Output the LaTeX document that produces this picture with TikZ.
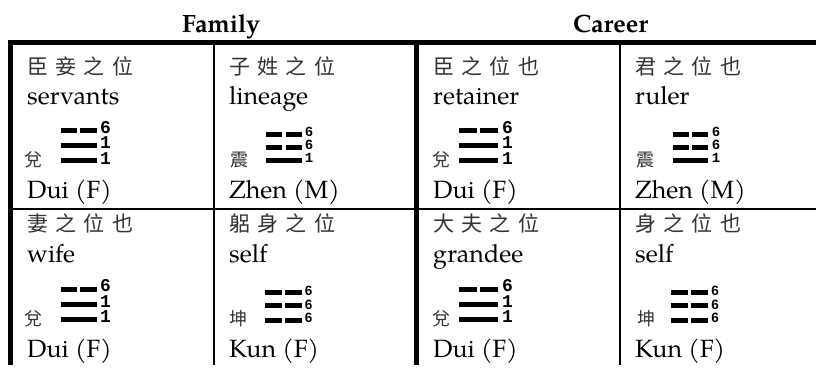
\documentclass[tikz,border=0pt]{standalone}
\usepackage{fontspec}
\newfontfamily\palf{TeX Gyre Pagella}
\newfontfamily\cjk{Noto Sans CJK TC}
\newfontfamily\cjkls[LetterSpace=35]{Noto Sans CJK TC}
\newfontfamily\monof{Liberation Mono}
\newfontfamily\sansf{Liberation Sans}
\newcommand\yang[3]{\fill (#1,#3-2.5) rectangle (#2,#3+2.5);}
\newcommand\yin[3]{\fill (#1,#3-2.5) rectangle ({(#1+#2)/2-1.7},#3+2.5);
  \fill ({(#1+#2)/2+1.7},#3-2.5) rectangle (#2,#3+2.5);}
\tikzset{
  en/.style={anchor=base west, inner sep=0pt, font=\palf\fontsize{25}{30}\selectfont},
  hd/.style={anchor=base, inner sep=0pt, font=\palf\bfseries\fontsize{25}{30}\selectfont},
  zh/.style={anchor=west, inner sep=0pt, text=black!80, font=\cjkls\fontsize{21}{25}\selectfont},
  zs/.style={anchor=base west, inner sep=0pt, text=black!80, font=\cjk\fontsize{18}{22}\selectfont},
  dg/.style={inner sep=0pt, align=center, font=\monof\bfseries\fontsize{18}{15.5}\selectfont},
  dgs/.style={inner sep=0pt, align=center, font=\monof\bfseries\fontsize{14}{13}\selectfont},
  dgk/.style={inner sep=0pt, align=center, font=\sansf\bfseries\fontsize{13.5}{13.75}\selectfont},
}
\begin{document}
\begin{tikzpicture}[x=1pt,y=-1pt]
\useasboundingbox (0,0) rectangle (816,367);
% rules
\fill (8,40) rectangle (816,45);
\fill (8,40) rectangle (13,365);
\fill (414,40) rectangle (419,365);
\fill (213,45) rectangle (215,365);
\fill (619,45) rectangle (621,365);
\fill (13,208) rectangle (816,210);
% headers
\node[hd] (hfam) at (221,32) {Family};
\node[hd] (hcar) at (610.5,32) {Career};
% ---- row 1
\node[zh] (z11) at (27,66) {臣妾之位};
\node[zh] (z12) at (229,66) {子姓之位};
\node[zh] (z13) at (433,66) {臣之位也};
\node[zh] (z14) at (635,66) {君之位也};
\node[en] (e11) at (27,104) {servants};
\node[en] (e12) at (229,104) {lineage};
\node[en] (e13) at (433,104) {retainer};
\node[en] (e14) at (635,104) {ruler};
\node[zs] (s11) at (24,166.5) {兌};
\node[zs] (s12) at (230,166.5) {震};
\node[zs] (s13) at (432,166.5) {兌};
\node[zs] (s14) at (636,166.5) {震};
\yin{60.5}{97}{130.5} \yang{60.5}{97}{145.5} \yang{60.5}{97}{160.5}
\yin{266}{302}{134.5} \yin{266}{302}{147} \yang{266}{302}{160.5}
\yin{459}{498}{130.5} \yang{459}{498}{145.5} \yang{459}{498}{160.5}
\yin{673}{708}{134.5} \yin{673}{708}{147} \yang{673}{708}{160.5}
\node[dg] (n11) at (105.5,142.5) {6\\1\\1};
\node[dgs] (n12) at (309,145) {6\\6\\1};
\node[dg] (n13) at (507.5,142.5) {6\\1\\1};
\node[dgs] (n14) at (716,145) {6\\6\\1};
\node[en] (b11) at (27,198) {Dui (F)};
\node[en] (b12) at (229,198) {Zhen (M)};
\node[en] (b13) at (433,198) {Dui (F)};
\node[en] (b14) at (635,198) {Zhen (M)};
% ---- row 2
\node[zh] (z21) at (27,223.5) {妻之位也};
\node[zh] (z22) at (229,223.5) {躳身之位};
\node[zh] (z23) at (433,223.5) {大夫之位};
\node[zh] (z24) at (635,223.5) {身之位也};
\node[en] (e21) at (27,262) {wife};
\node[en] (e22) at (229,262) {self};
\node[en] (e23) at (433,262) {grandee};
\node[en] (e24) at (635,262) {self};
\node[zs] (s21) at (24,325) {兌};
\node[zs] (s22) at (229,325) {坤};
\node[zs] (s23) at (432,325) {兌};
\node[zs] (s24) at (637,325) {坤};
\yin{60.5}{97}{289} \yang{60.5}{97}{304} \yang{60.5}{97}{319}
\yin{265}{302}{292.5} \yin{265}{302}{305.5} \yin{265}{302}{320}
\yin{459}{498}{289} \yang{459}{498}{304} \yang{459}{498}{319}
\yin{671}{708}{292.5} \yin{671}{708}{305.5} \yin{671}{708}{320}
\node[dg] (n21) at (105.5,301) {6\\1\\1};
\node[dgk] (n22) at (308.5,304.5) {6\\6\\6};
\node[dg] (n23) at (507.5,301) {6\\1\\1};
\node[dgk] (n24) at (715,304.5) {6\\6\\6};
\node[en] (b21) at (27,357) {Dui (F)};
\node[en] (b22) at (229,357) {Kun (F)};
\node[en] (b23) at (433,357) {Dui (F)};
\node[en] (b24) at (635,357) {Kun (F)};
\end{tikzpicture}
\end{document}
